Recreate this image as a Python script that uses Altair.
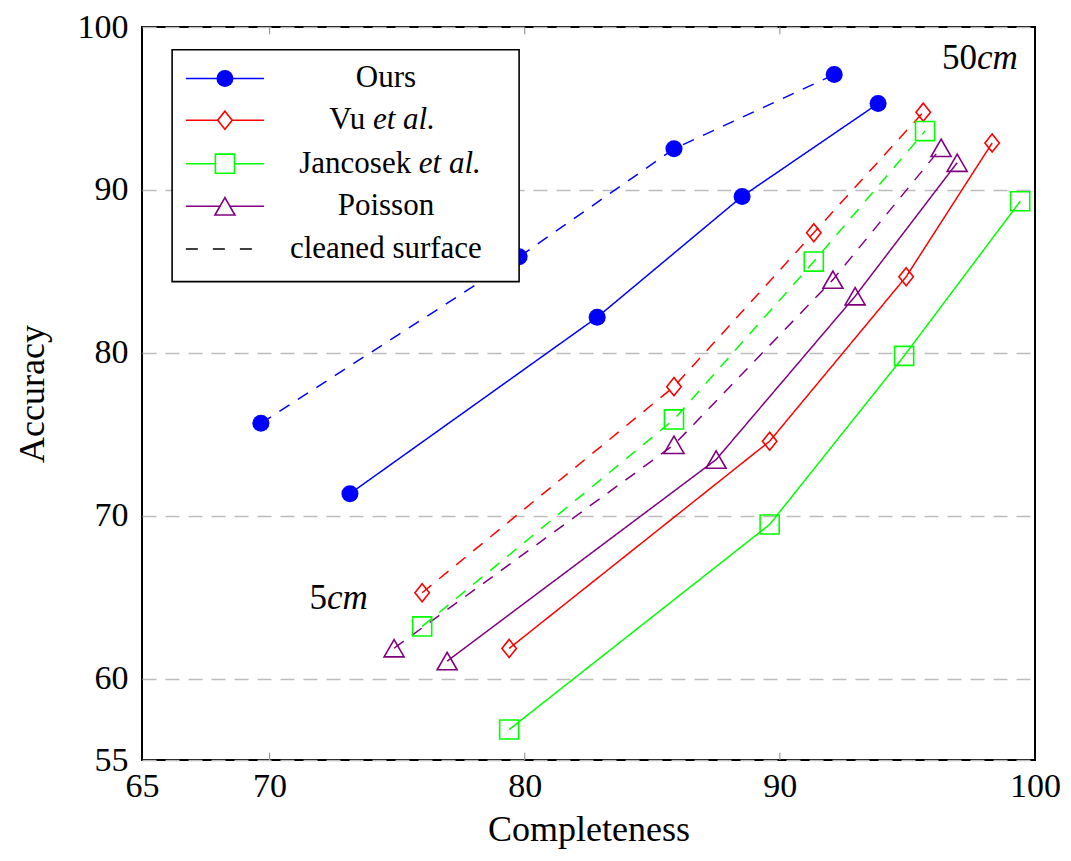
import altair as alt
import pandas as pd

# ---------------- data ----------------
series = ["Ours", "Vu", "Jancosek", "Poisson"]
colors = ["#0000ff", "#ff0000", "#00ff00", "#800080"]

ours_solid_x = [73.15, 82.84, 88.52, 93.85]
ours_solid_y = [71.35, 82.18, 89.60, 95.30]
ours_dash_x = [69.66, 79.78, 85.85, 92.13]
ours_dash_y = [75.67, 85.89, 92.52, 97.08]

vu_solid_x = [79.39, 89.60, 94.95, 98.32]
vu_solid_y = [61.85, 74.57, 84.67, 92.88]
vu_dash_x = [75.98, 85.85, 91.33, 95.62]
vu_dash_y = [65.27, 77.92, 87.37, 94.77]

jan_solid_x = [79.39, 89.60, 94.87, 99.42]
jan_solid_y = [56.87, 69.46, 79.81, 89.30]
jan_dash_x = [75.98, 85.85, 91.33, 95.69]
jan_dash_y = [63.20, 75.91, 85.60, 93.61]

poi_solid_x = [76.96, 87.50, 92.95, 96.95]
poi_solid_y = [61.07, 73.44, 83.47, 91.67]
poi_dash_x = [74.88, 85.85, 92.08, 96.32]
poi_dash_y = [61.86, 74.35, 84.49, 92.58]

x_ticks = [65, 70, 80, 90, 100]
y_ticks = [55, 60, 70, 80, 90, 100]

# legend layout (data units)
legend_labels = ["Ours", "Vu", "Jancosek", "Poisson", "cleaned surface"]
legend_row_y = [96.84, 94.28, 91.61, 88.99, 86.37]

FONT = "Liberation Serif"

rows = []
for name, style, xs, ys in [
    ("Ours", "solid", ours_solid_x, ours_solid_y),
    ("Ours", "dashed", ours_dash_x, ours_dash_y),
    ("Vu", "solid", vu_solid_x, vu_solid_y),
    ("Vu", "dashed", vu_dash_x, vu_dash_y),
    ("Jancosek", "solid", jan_solid_x, jan_solid_y),
    ("Jancosek", "dashed", jan_dash_x, jan_dash_y),
    ("Poisson", "solid", poi_solid_x, poi_solid_y),
    ("Poisson", "dashed", poi_dash_x, poi_dash_y),
]:
    for x, y in zip(xs, ys):
        rows.append(dict(series=name, style=style, key=name + style, x=x, y=y))
df = pd.DataFrame(rows)

xscale = alt.Scale(domain=[65, 100], nice=False, zero=False)
yscale = alt.Scale(domain=[55, 100], nice=False, zero=False)
color_scale = alt.Scale(domain=series, range=colors)
dash_scale = alt.Scale(domain=["solid", "dashed"], range=[[1, 0], [12, 10]])
diamond = "M0,-1L0.8,0L0,1L-0.8,0Z"
shape_scale = alt.Scale(domain=series, range=["circle", diamond, "square", "triangle-up"])
size_scale = alt.Scale(domain=series, range=[290, 400, 361, 330])

X = alt.X("x:Q", scale=xscale,
          axis=alt.Axis(values=x_ticks, title="Completeness", grid=False, ticks=False,
                        domain=False, labelPadding=9, titlePadding=9, labelFlush=False))
Y = alt.Y("y:Q", scale=yscale,
          axis=alt.Axis(values=y_ticks, title="Accuracy", grid=True, ticks=False,
                        domain=False, labelPadding=14, titlePadding=26, labelFlush=False,
                        gridDash=[14, 9], gridColor="#bcbcbc", gridWidth=1.6))

lines = alt.Chart(df).mark_line(strokeWidth=1.5).encode(
    x=X, y=Y,
    color=alt.Color("series:N", scale=color_scale, legend=None),
    strokeDash=alt.StrokeDash("style:N", scale=dash_scale, legend=None),
    detail="key:N",
)

ours_pts = alt.Chart(df[df.series == "Ours"]).mark_point(
    filled=True, shape="circle", size=290, color="#0000ff", opacity=1
).encode(x="x:Q", y="y:Q")

other_pts = alt.Chart(df[df.series != "Ours"]).mark_point(
    filled=False, strokeWidth=1.6, opacity=1
).encode(
    x="x:Q", y="y:Q",
    color=alt.Color("series:N", scale=color_scale, legend=None),
    shape=alt.Shape("series:N", scale=shape_scale, legend=None),
    size=alt.Size("series:N", scale=size_scale, legend=None),
)

# inward ticks on bottom/top
tick_df = pd.DataFrame(
    [dict(x=v, y=55, y2=55.45) for v in [70, 80, 90]]
    + [dict(x=v, y=100, y2=99.55) for v in [70, 80, 90]]
)
ticks = alt.Chart(tick_df).mark_rule(color="#9a9a9a", strokeWidth=1.2).encode(
    x="x:Q", y="y:Q", y2="y2:Q"
)

# ---------------- legend ----------------
box = alt.Chart(pd.DataFrame([dict(x=66.18, x2=79.78, y=98.6, y2=84.37)])).mark_rect(
    fill="white", stroke="black", strokeWidth=1.6
).encode(x="x:Q", x2="x2:Q", y="y:Q", y2="y2:Q")

leg_df = pd.DataFrame(dict(
    series=series,
    x=[66.72] * 4, x2=[69.78] * 4, xm=[68.25] * 4,
    y=legend_row_y[:4],
))
leg_lines = alt.Chart(leg_df).mark_rule(strokeWidth=1.5).encode(
    x="x:Q", x2="x2:Q", y="y:Q",
    color=alt.Color("series:N", scale=color_scale, legend=None),
)
leg_dash = alt.Chart(pd.DataFrame([dict(x=66.72, x2=69.33, y=legend_row_y[4])])).mark_rule(
    strokeWidth=1.5, color="black", strokeDash=[12, 15]
).encode(x="x:Q", x2="x2:Q", y="y:Q")
leg_ours = alt.Chart(leg_df[leg_df.series == "Ours"]).mark_point(
    filled=True, shape="circle", size=290, color="#0000ff", opacity=1
).encode(x="xm:Q", y="y:Q")
leg_others = alt.Chart(leg_df[leg_df.series != "Ours"]).mark_point(
    filled=True, strokeWidth=1.6, opacity=1, fill="white"
).encode(
    x="xm:Q", y="y:Q",
    stroke=alt.Stroke("series:N", scale=color_scale, legend=None),
    shape=alt.Shape("series:N", scale=shape_scale, legend=None),
    size=alt.Size("series:N", scale=size_scale, legend=None),
)

txt_center = pd.DataFrame(dict(
    t=[legend_labels[0], legend_labels[3], legend_labels[4]],
    x=[74.56, 74.56, 74.56],
    y=[legend_row_y[0], legend_row_y[3], legend_row_y[4]],
))
txt_right = pd.DataFrame(dict(
    t=["Vu", "Jancosek"],
    x=[73.75, 75.55],
    y=[legend_row_y[1], legend_row_y[2]],
))
txt_ital = pd.DataFrame(dict(
    t=["et al.", "et al."],
    x=[74.05, 75.85],
    y=[legend_row_y[1], legend_row_y[2]],
))
LF = 31
leg_t1 = alt.Chart(txt_center).mark_text(font=FONT, fontSize=LF, align="center", baseline="middle").encode(
    x="x:Q", y="y:Q", text="t:N")
leg_t2 = alt.Chart(txt_right).mark_text(font=FONT, fontSize=LF, align="right", baseline="middle").encode(
    x="x:Q", y="y:Q", text="t:N")
leg_t3 = alt.Chart(txt_ital).mark_text(font=FONT, fontSize=LF, align="left", baseline="middle",
                                       fontStyle="italic").encode(x="x:Q", y="y:Q", text="t:N")

# ---------------- annotations ----------------
ann_num = pd.DataFrame(dict(t=["50", "5"], x=[97.73, 72.25], y=[97.45, 64.3]))
ann_unit = pd.DataFrame(dict(t=["cm", "cm"], x=[97.73, 72.25], y=[97.45, 64.3]))
ann1 = alt.Chart(ann_num).mark_text(font=FONT, fontSize=35, align="right", baseline="alphabetic").encode(
    x="x:Q", y="y:Q", text="t:N")
ann2 = alt.Chart(ann_unit).mark_text(font=FONT, fontSize=35, align="left", baseline="alphabetic",
                                     fontStyle="italic").encode(x="x:Q", y="y:Q", text="t:N")

chart = alt.layer(
    lines, ours_pts, other_pts, ticks,
    box, leg_lines, leg_dash, leg_ours, leg_others, leg_t1, leg_t2, leg_t3,
    ann1, ann2,
).properties(
    width=893, height=733,
    autosize=alt.AutoSizeParams(type="none"),
    padding={"left": 134, "top": 19, "right": 27, "bottom": 93},
    background="white",
).configure_view(
    stroke="black", strokeWidth=2
).configure_axis(
    labelFont=FONT, titleFont=FONT, labelFontSize=34, titleFontSize=36,
    labelColor="black", titleColor="black", titleFontWeight="normal",
)

chart.save("out.html", embed_options={"renderer": "svg", "actions": False})
